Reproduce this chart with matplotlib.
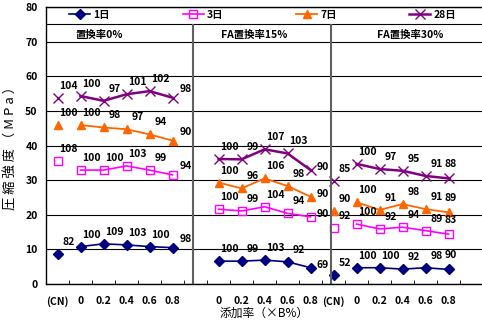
import numpy as np
import matplotlib.pyplot as plt

plt.rcParams['font.family'] = ['Liberation Sans Narrow', 'Noto Sans CJK JP', 'DejaVu Sans']
plt.rcParams['font.weight'] = 'bold'

ages = ['1日', '3日', '7日', '28日']
panels = ['置換率0%', 'FA置換率15%', 'FA置換率30%']
xcats = ['(CN)', '0', '0.2', '0.4', '0.6', '0.8']

# compressive strength (MPa), per panel: [CN, 0, 0.2, 0.4, 0.6, 0.8]
s1 = [[8.7, 10.8, 11.6, 11.3, 10.8, 10.5],
      [None, 6.6, 6.6, 6.9, 6.4, 4.7],
      [2.6, 4.7, 4.7, 4.3, 4.7, 4.2]]
s3 = [[35.6, 32.9, 32.9, 34.1, 32.9, 31.5],
      [None, 21.6, 21.1, 22.3, 20.4, 19.4],
      [16.1, 17.3, 15.9, 16.4, 15.4, 14.4]]
s7 = [[45.9, 45.9, 45.2, 44.7, 43.2, 41.4],
      [None, 29.3, 27.6, 30.5, 28.3, 25.2],
      [21.2, 23.6, 21.4, 23.1, 21.6, 20.7]]
s28 = [[53.8, 54.3, 52.9, 54.8, 55.7, 53.8],
       [None, 36.1, 36.0, 38.9, 37.7, 32.9],
       [29.7, 34.7, 33.2, 32.7, 31.2, 30.5]]

# ratio labels (%)
r1 = [[82, 100, 109, 103, 100, 98], [None, 100, 99, 103, 92, 69], [52, 100, 100, 92, 98, 90]]
r3 = [[108, 100, 100, 103, 99, 94], [None, 100, 99, 104, 94, 90], [92, 100, 92, 94, 89, 83]]
r7 = [[100, 100, 98, 97, 94, 90], [None, 100, 96, 106, 98, 90], [90, 100, 91, 98, 91, 89]]
r28 = [[104, 100, 97, 101, 102, 98], [None, 100, 99, 107, 103, 90], [85, 100, 97, 95, 91, 88]]

strengths = [s1, s3, s7, s28]
ratios = [r1, r3, r7, r28]
colors = ['#000080', '#FF00FF', '#FF6600', '#800080']
markers = ['D', 's', '^', 'x']
msizes = [5, 5.5, 6, 7]
lws = [1.2, 1.2, 1.3, 1.8]

fig = plt.figure(figsize=(4.82, 3.22), dpi=100)
ax = fig.add_axes([46 / 482, 38 / 322, 436 / 482, 277 / 322])

handles = []
for k in range(4):
    for p in range(3):
        off = 6 * p
        vals = strengths[k][p]
        xs = off + np.arange(1, 6)
        h, = ax.plot(xs, vals[1:], color=colors[k], marker=markers[k], ms=msizes[k],
                     mfc='none' if markers[k] == 's' else colors[k], mew=1.0, lw=lws[k])
        if vals[0] is not None:
            ax.plot(off, vals[0], color=colors[k], marker=markers[k], ms=msizes[k],
                    mfc='none' if markers[k] == 's' else colors[k], mew=1.0, ls='none')
        for i in range(6):
            if vals[i] is None:
                continue
            dx, dy = 11, 12
            if i == 5 and p == 2:
                dx, dy = 2, 14
            elif i == 5 and p == 1:
                dx, dy = 12, 3
            elif i == 5:
                dx, dy = 13, 9
            ax.annotate(str(ratios[k][p][i]), (off + i, vals[i]), xytext=(dx, dy),
                        textcoords='offset pixels', ha='center', va='center',
                        fontsize=7.5, fontweight='bold')
    handles.append(h)

ax.set_xlim(-0.5, 18.45)
ax.set_ylim(0, 80)
ax.set_yticks(range(0, 81, 10))
ax.yaxis.grid(True, color='black', lw=0.8)
ax.set_axisbelow(True)
ax.axhline(75, color='black', lw=0.8)
ax.vlines([5.87, 11.87], 0, 75, colors='#606060', lw=1.5)

pos, labs = [], []
for p in range(3):
    for i in range(6):
        if p == 1 and i == 0:
            continue
        pos.append(6 * p + i)
        labs.append(xcats[i])
ax.set_xticks(pos)
ax.set_xticklabels(labs, fontsize=7.5)
ax.set_xticks(np.arange(0.5, 18, 1), minor=True)
ax.tick_params(axis='x', which='major', length=0, pad=9)
ax.tick_params(axis='x', which='minor', direction='in', length=3)
ax.tick_params(axis='y', length=0, pad=6, labelsize=7.5)
for sp in ['left', 'bottom', 'top']:
    ax.spines[sp].set_linewidth(1.0)
ax.spines['right'].set_visible(False)

for p, t in enumerate(panels):
    ax.text(1.83 + 6.74 * p, 71.9, t, ha='center', va='center', fontsize=7.5, fontweight='bold')

ax.set_ylabel('圧 縮 強 度 （ M P a ）', fontsize=9.5)
ax.yaxis.set_label_coords(-28 / 436, 0.5)
ax.set_xlabel('添加率（×B%）', fontsize=8.5)
ax.xaxis.set_label_coords(0.5, -23 / 277)

fig.legend(handles, ages, ncol=4, loc='center', bbox_to_anchor=(0.545, 0.953), frameon=False,
           columnspacing=7.0, handlelength=2, handletextpad=0.3, fontsize=7.5)

fig.savefig('out.png', dpi=100)
